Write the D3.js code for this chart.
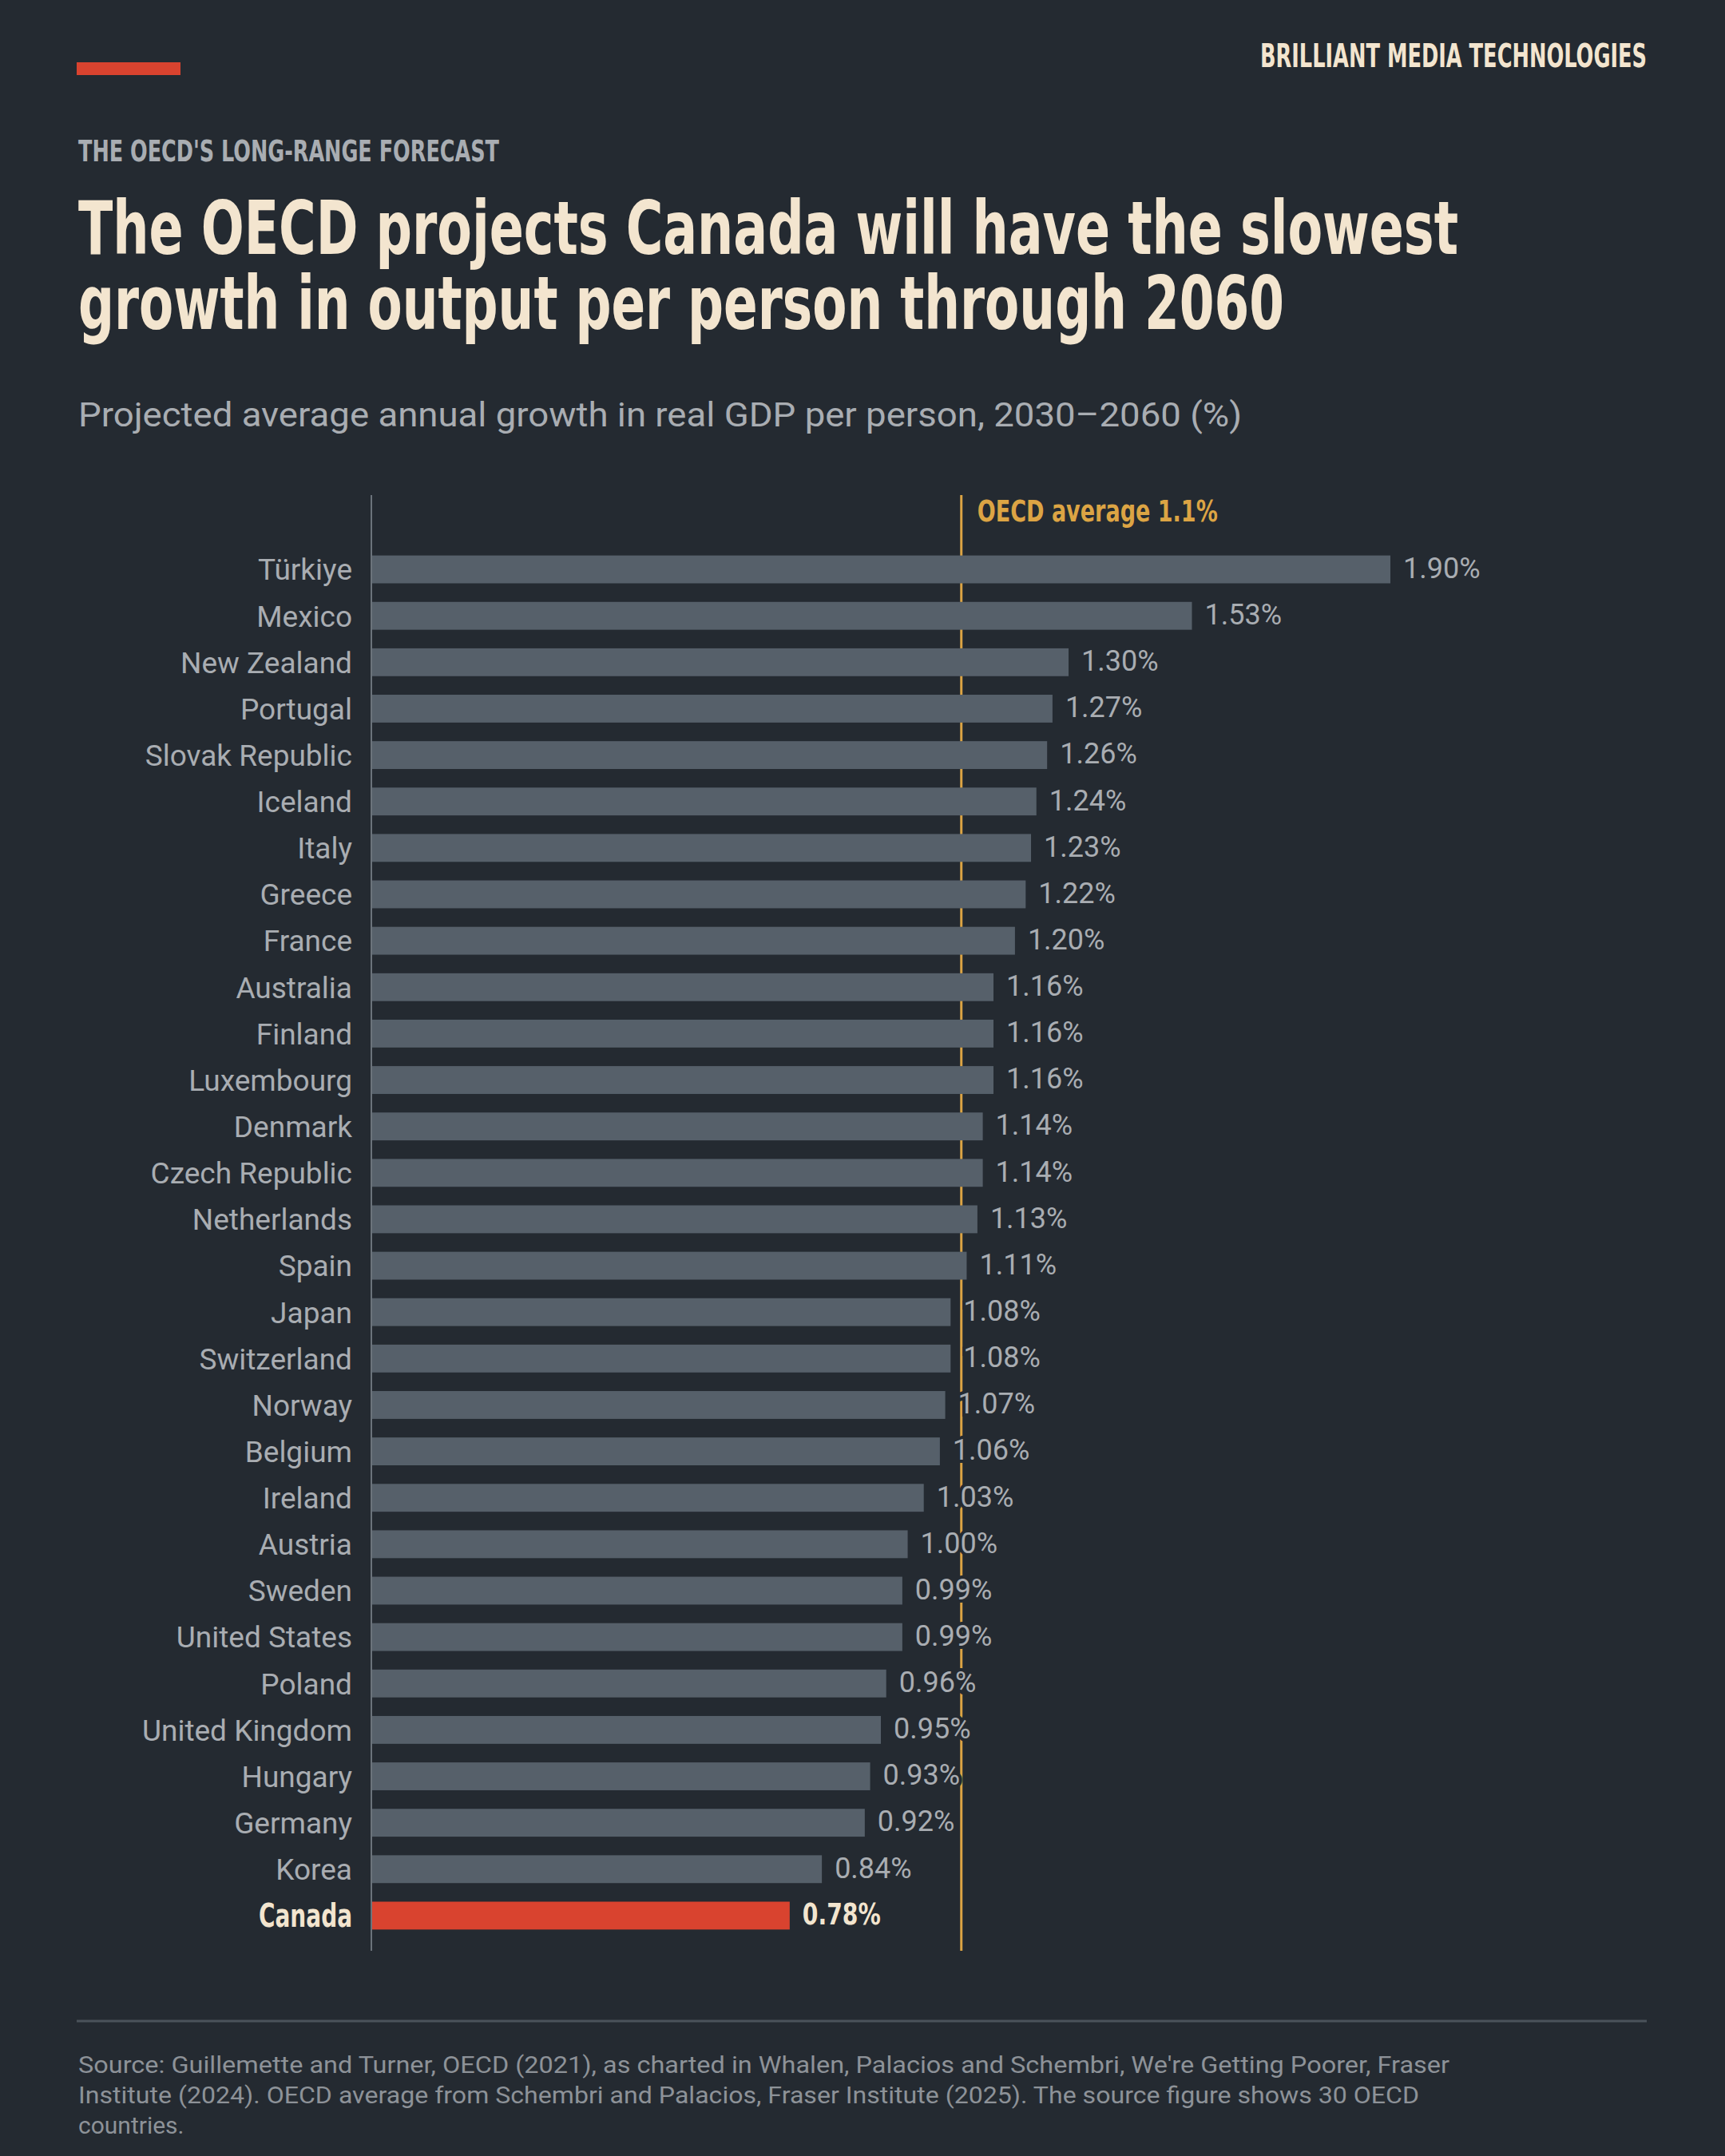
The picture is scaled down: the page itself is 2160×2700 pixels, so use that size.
<!DOCTYPE html>
<html><head><meta charset="utf-8">
<script src="https://cdn.jsdelivr.net/npm/d3@7"></script>
<style>
body{margin:0;background:#242a31;}
svg{display:block;}
.cond{font-family:"Liberation Sans Narrow","DejaVu Sans Condensed","Roboto",sans-serif;font-weight:700;}
.body{font-family:"Roboto","Inter",sans-serif;}
</style></head>
<body>
<script>
// data
var countries = ['Türkiye','Mexico','New Zealand','Portugal','Slovak Republic','Iceland','Italy','Greece','France','Australia','Finland','Luxembourg','Denmark','Czech Republic','Netherlands','Spain','Japan','Switzerland','Norway','Belgium','Ireland','Austria','Sweden','United States','Poland','United Kingdom','Hungary','Germany','Korea','Canada'];
var growth = [1.90,1.53,1.30,1.27,1.26,1.24,1.23,1.22,1.20,1.16,1.16,1.16,1.14,1.14,1.13,1.11,1.08,1.08,1.07,1.06,1.03,1.00,0.99,0.99,0.96,0.95,0.93,0.92,0.84,0.78];
var oecdAvg = 1.1;
var highlight = 'Canada';

var W = 2160, H = 2700;
var svg = d3.select('body').append('svg').attr('width', W).attr('height', H);
var cream = '#f3e5cf', grey = '#a9adb2', gold = '#dca444';

// condensed text: squeeze to the width seen in the reference
function fit(sel, w) { return sel.attr('textLength', w).attr('lengthAdjust', 'spacingAndGlyphs'); }

svg.append('rect').attr('x',96).attr('y',78).attr('width',130).attr('height',16).attr('fill','#d9432f');
fit(svg.append('text').attr('class','cond').attr('x',2062).attr('y',84).attr('text-anchor','end')
  .attr('font-size',40).attr('fill',cream).text('BRILLIANT MEDIA TECHNOLOGIES'), 484);
fit(svg.append('text').attr('class','cond').attr('x',98).attr('y',202)
  .attr('font-size',38).attr('fill',grey).text("THE OECD'S LONG-RANGE FORECAST"), 527);
fit(svg.append('text').attr('class','cond').attr('x',98).attr('y',318).attr('font-size',92).attr('fill',cream)
  .text('The OECD projects Canada will have the slowest'), 1728);
fit(svg.append('text').attr('class','cond').attr('x',98).attr('y',412).attr('font-size',92).attr('fill',cream)
  .text('growth in output per person through 2060'), 1510);
fit(svg.append('text').attr('class','body').attr('x',98).attr('y',534).attr('font-size',42).attr('fill',grey)
  .text('Projected average annual growth in real GDP per person, 2030–2060 (%)'), 1457);

var x = d3.scaleLinear().domain([0, 1.9]).range([465, 1741]);
var y = d3.scaleBand().domain(countries).range([684, 2428]).paddingInner(0.4).paddingOuter(0.2);
var data = countries.map(function(c,i){ return {name:c, v:growth[i]}; });

// OECD average line
svg.append('line').attr('x1',x(oecdAvg)).attr('x2',x(oecdAvg)).attr('y1',620).attr('y2',2443)
  .attr('stroke',gold).attr('stroke-width',3);
fit(svg.append('text').attr('class','cond').attr('x',x(oecdAvg)+20).attr('y',653)
  .attr('font-size',38).attr('fill',gold).text('OECD average 1.1%'), 301);

svg.selectAll('rect.bar').data(data).enter().append('rect').attr('class','bar')
  .attr('x',x(0)).attr('y',d=>y(d.name)).attr('height',y.bandwidth())
  .attr('width',d=>x(d.v)-x(0))
  .attr('fill',d=>d.name===highlight?'#d9432f':'#56606a');

// axis line
svg.append('line').attr('x1',x(0)).attr('x2',x(0)).attr('y1',620).attr('y2',2443)
  .attr('stroke','#6b737b').attr('stroke-width',2);

svg.selectAll('text.lab').data(data).enter().append('text')
  .attr('class',d=>d.name===highlight?'cond':'body')
  .attr('x',x(0)-24).attr('y',d=>y(d.name)+y.bandwidth()/2).attr('dy','0.36em')
  .attr('text-anchor','end').attr('font-size',d=>d.name===highlight?40:37)
  .attr('fill',d=>d.name===highlight?cream:grey).text(d=>d.name)
  .each(function(d){ if (d.name===highlight) fit(d3.select(this), 117); });

svg.selectAll('text.val').data(data).enter().append('text')
  .attr('class',d=>d.name===highlight?'cond':'body')
  .attr('x',d=>x(d.v)+16).attr('y',d=>y(d.name)+y.bandwidth()/2).attr('dy','0.3em')
  .attr('font-size',d=>d.name===highlight?38:36)
  .attr('fill',d=>d.name===highlight?cream:grey)
  .attr('stroke','#242a31').attr('stroke-width',8).attr('paint-order','stroke')
  .text(d=>d.v.toFixed(2)+'%')
  .each(function(d){ if (d.name===highlight) fit(d3.select(this), 98); });

svg.append('line').attr('x1',96).attr('x2',2062).attr('y1',2531).attr('y2',2531)
  .attr('stroke','#4a525a').attr('stroke-width',3);
var src = ['Source: Guillemette and Turner, OECD (2021), as charted in Whalen, Palacios and Schembri, We\'re Getting Poorer, Fraser',
  'Institute (2024). OECD average from Schembri and Palacios, Fraser Institute (2025). The source figure shows 30 OECD',
  'countries.'];
var srcW = [1717, 1679, null];
svg.selectAll('text.src').data(src).enter().append('text').attr('class','body')
  .attr('x',98).attr('y',(d,i)=>2596+i*38).attr('font-size',30).attr('fill','#8d9298').text(d=>d)
  .each(function(d,i){ if (srcW[i]) fit(d3.select(this), srcW[i]); });
</script>
</body></html>
